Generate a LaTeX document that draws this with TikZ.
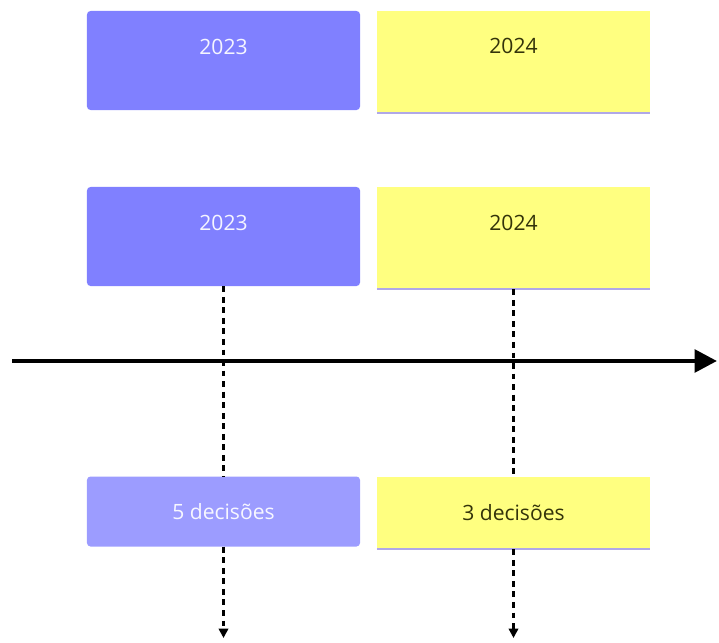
\documentclass[tikz,border=0pt]{standalone}
\usepackage{fontspec}
\setmainfont{Open Sans}
\usepackage{tikz}
\usetikzlibrary{arrows.meta, calc}

\definecolor{azul}{HTML}{8080FF}
\definecolor{azulclaro}{HTML}{9C9CFF}
\definecolor{amarelo}{HTML}{FFFF80}
\definecolor{lilas}{HTML}{B0A8E8}
\definecolor{textoescuro}{HTML}{33330A}

\tikzset{
    ano/.style={minimum width=8.19cm, inner xsep=0pt, inner ysep=0pt,
        text height=1.29cm, text depth=1.68cm, font=\fontsize{18}{21}\selectfont},
    caixaazul/.style={fill=azul, rounded corners=3pt, text=white!92!azul},
    caixaamarela/.style={fill=amarelo, text=textoescuro},
    total/.style={minimum width=8.19cm, minimum height=2.1cm, inner sep=0pt,
        font=\fontsize{18}{21}\selectfont},
    guia/.style={line width=2pt, dash pattern=on 5pt off 4pt},
}

\begin{document}
\begin{tikzpicture}[x=0.03cm, y=-0.03cm]
        \useasboundingbox (0,0) rectangle (719,643);

        \coordinate (A) at (223.5, 60.5);
        \coordinate (B) at (513.5, 62);
        \coordinate (C) at (223.5, 236.5);
        \coordinate (D) at (513.5, 238);

        % anos de cima
        \node[ano, caixaazul] (ano23a) at (A) {2023};
        \node[ano, caixaamarela, text depth=1.77cm] (ano24a) at (B) {2024};
        \draw[lilas, line width=2pt] (ano24a.south west) -- (ano24a.south east);

        % anos sobre a linha
        \node[ano, caixaazul] (ano23b) at (C) {2023};
        \node[ano, caixaamarela, text depth=1.77cm] (ano24b) at (D) {2024};
        \draw[lilas, line width=2pt] (ano24b.south west) -- (ano24b.south east);

        % linha do tempo
        \coordinate (inicio) at (12, 361);
        \coordinate (fim) at (717, 361);
        \draw[line width=3.8pt, -{Triangle[length=19pt, width=19pt]}] (inicio) -- (fim);

        % decisoes
        \node[total, fill=azulclaro, rounded corners=3pt, text=white!92!azulclaro] (dec23) at (223.5, 511.5) {5 decisões};
        \node[total, fill=amarelo, text=textoescuro, minimum height=2.16cm] (dec24) at (513.5, 513) {3 decisões};
        \draw[lilas, line width=2pt] (dec24.south west) -- (dec24.south east);

        \draw[guia] (ano23b.south) -- (dec23.north);
        \draw[guia] (ano24b.south) -- (dec24.north);

        \coordinate (fim23) at (223.5, 638);
        \coordinate (fim24) at (513.5, 638);
        \draw[guia, -{Triangle[length=8pt, width=8pt]}] (dec23.south) -- (fim23);
        \draw[guia, -{Triangle[length=8pt, width=8pt]}] (dec24.south) -- (fim24);

    \end{tikzpicture}
\end{document}
